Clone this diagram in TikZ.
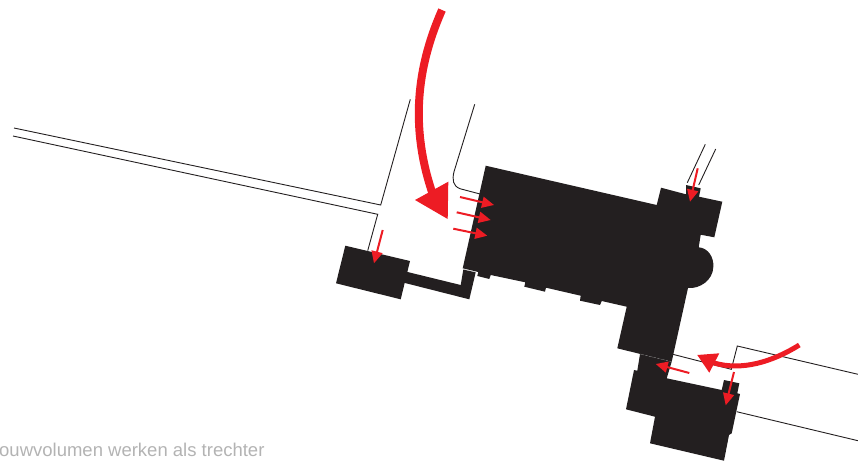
\documentclass[tikz,border=0pt]{standalone}
\usepackage{fontspec}
\setmainfont{Liberation Sans}
\usetikzlibrary{arrows.meta}
\definecolor{bld}{HTML}{231F20}
\definecolor{rd}{HTML}{ED1C24}
\definecolor{cap}{HTML}{B3B3B3}
\tikzset{
  street/.style={draw=bld,line width=0.9pt,line join=miter},
  mass/.style={fill=bld,draw=none},
  small/.style={draw=rd,line width=2pt,-{Triangle[length=12pt,width=11pt]}},
  redhead/.style={fill=rd,draw=none}
}
\begin{document}
\begin{tikzpicture}[x=1pt,y=-1pt]
\useasboundingbox (0,0) rectangle (858,472);
% streets
\draw[street] (14,128) -- (380.7,205) -- (410.3,99.3);
\draw[street] (13,136) -- (377.7,214.3) -- (367.7,250.7);
\draw[street] (474.7,104.3) -- (454,171.7) .. controls (452,180) and (453,186) .. (460,188.7) -- (480,194);
\draw[street] (705.3,144.3) -- (687.3,182.7);
\draw[street] (715.7,149) -- (698.7,185);
\draw[street] (671.7,354) -- (731.3,369.3) -- (737.3,346) -- (858,374.3);
\draw[street] (736.7,411.7) -- (858,440.7);
% buildings
\fill[mass] (485.7,165.7) -- (656.7,205) -- (661,187.7) -- (686,194.3) -- (686,185) -- (700.7,188.3) -- (699,196.7) -- (722.3,201.7) -- (714.3,237.3) -- (700.7,234.7) -- (698.7,247.3)
  .. controls (708,248) and (714,257) .. (713.3,267) .. controls (713,280) and (700,289) .. (688,288)
  -- (671.7,361.7) -- (617.3,348.3) -- (626.7,306.7) -- (601.7,301) -- (600,305) -- (580,300.7) -- (580.7,295.7) -- (546,287.7) -- (545,291.7) -- (524.3,286.7) -- (525.3,282.3) -- (490.7,275) -- (489.3,279) -- (477.3,276) -- (478.3,272) -- (462.7,268.3) -- cycle;
\fill[mass] (345.3,245.7) -- (410,261) -- (400.7,299.3) -- (336,283.3) -- cycle;
\fill[mass] (463.3,269.5) -- (475.7,272.3) -- (469.3,299.3) -- (403,282.5) -- (405.5,271.5) -- (460.7,285) -- cycle;
\fill[mass] (640,354) -- (671.7,361.7) -- (666.7,378.3) -- (721.7,390) -- (724,380) -- (739.3,383.3) -- (737.3,393.3) -- (740,394) -- (731.7,433.3) -- (729,435) -- (724,460.7) -- (650,443.3) -- (655,416.7) -- (626,409.3) -- (634,370) -- (637.3,370.7) -- cycle;
\draw[gray,line width=0.3pt,dash pattern=on 1.5pt off 1.5pt] (640,354) -- (671.7,361.7);
\draw[gray!60,line width=0.3pt] (463.3,269.2) -- (475.7,272);
% red arrows
\draw[rd,line width=8pt] (442,10) .. controls (420,60) and (408,120) .. (432,192);
\fill[redhead] (448.3,181.7) -- (415,200) -- (447.7,219) -- cycle;
\draw[small] (460,197) -- (494,205);
\draw[small] (456.7,212.3) -- (490.7,220);
\draw[small] (453.3,228.7) -- (487.3,235.7);
\draw[small] (382.7,230) -- (374,263.3);
\draw[small] (697.7,168.3) -- (690,201.7);
\draw[small] (689.3,373) -- (655.7,364);
\draw[small] (734,372) -- (725.7,405.3);
\draw[rd,line width=5pt] (799.3,345) .. controls (772,362) and (742,371) .. (714,363);
\fill[redhead] (719.3,353.3) -- (697.3,355) -- (709.3,372.7) -- cycle;
% caption
\node[anchor=base west,inner sep=0pt,text=cap,font=\fontsize{18.5}{22}\selectfont] (cap) at (-1,456.5) {ouwvolumen werken als trechter};
\end{tikzpicture}
\end{document}
